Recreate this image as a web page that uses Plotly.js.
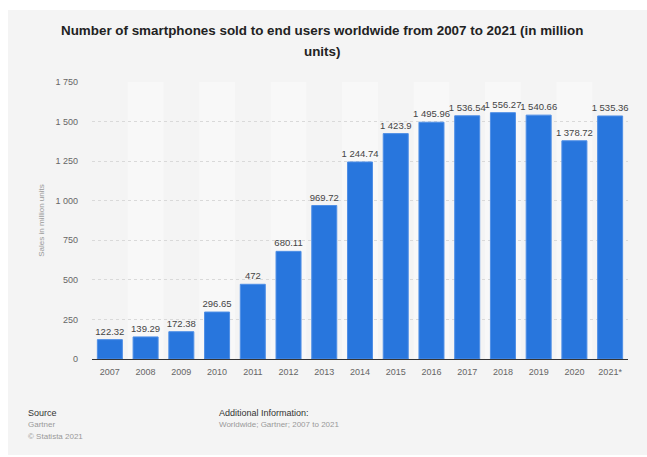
<!DOCTYPE html>
<html>
<head>
<meta charset="utf-8">
<script src="https://cdn.plot.ly/plotly-3.0.1.min.js"></script>
<style>
  html, body { margin: 0; padding: 0; background: #ffffff; width: 647px; height: 457px; overflow: hidden; }
  #chart { position: absolute; left: 8px; top: 10px; width: 639px; height: 445px; }
</style>
</head>
<body>
<div id="chart"></div>
<script>
const years = ["2007","2008","2009","2010","2011","2012","2013","2014","2015","2016","2017","2018","2019","2020","2021*"];
const sales = [122.32, 139.29, 172.38, 296.65, 472, 680.11, 969.72, 1244.74, 1423.9, 1495.96, 1536.54, 1556.27, 1540.66, 1378.72, 1535.36];
const yTicks = [0, 250, 500, 750, 1000, 1250, 1500, 1750];
const titleLines = ["Number of smartphones sold to end users worldwide from 2007 to 2021 (in million", "units)"];

const font = "Liberation Sans, Arial, sans-serif";

// alternating lighter column bands
const shapes = [];
years.forEach((y, i) => {
  if (i % 2 === 1) {
    shapes.push({
      type: "rect", layer: "below", xref: "x", yref: "y",
      x0: i - 0.5, x1: i + 0.5, y0: 0, y1: 1750,
      fillcolor: "#f8f8f8", line: { width: 0 }
    });
  }
});

const trace = {
  type: "bar",
  x: years.map((_, i) => i),
  y: sales,
  marker: { color: "#2876dd", line: { color: "#4f8fe6", width: 1 } },
  texttemplate: "%{y:,}",
  textposition: "outside",
  textangle: 0,
  constraintext: "none",
  cliponaxis: false,
  textfont: { family: font, size: 9.5, color: "#444" },
  hoverinfo: "skip"
};

const titleFont = { family: font, size: 13.4, color: "#222" };

const layout = {
  width: 639, height: 445,
  margin: { l: 83.6, r: 18.6, t: 72.3, b: 96.3 },
  paper_bgcolor: "#f4f4f4",
  plot_bgcolor: "rgba(0,0,0,0)",
  separators: ". ",
  showlegend: false,
  bargap: 0.3,
  font: { family: font },
  xaxis: {
    tickmode: "array",
    tickvals: years.map((_, i) => i),
    ticktext: years,
    range: [-0.5, years.length - 0.5],
    showgrid: false, zeroline: false,
    showline: true, linecolor: "#333", linewidth: 1,
    ticks: "", ticklabelstandoff: 4,
    tickfont: { family: font, size: 9, color: "#666" },
    fixedrange: true
  },
  yaxis: {
    range: [0, 1750],
    tickmode: "array",
    tickvals: yTicks,
    tickformat: ",",
    showgrid: true, gridcolor: "#d9d9d9", griddash: "dot", gridwidth: 1,
    zeroline: false, showline: false,
    ticks: "", ticklabelstandoff: 13,
    tickfont: { family: font, size: 9, color: "#666" },
    title: { text: "Sales in million units", font: { family: font, size: 8, color: "#999" }, standoff: 9 },
    fixedrange: true
  },
  shapes: shapes,
  annotations: [
    { text: "<b>" + titleLines[0] + "</b>", xref: "paper", yref: "paper", x: 0.4295, y: 1.1856, xanchor: "center", yanchor: "middle", showarrow: false, font: titleFont },
    { text: "<b>" + titleLines[1] + "</b>", xref: "paper", yref: "paper", x: 0.4295, y: 1.1107, xanchor: "center", yanchor: "middle", showarrow: false, font: titleFont },
    { text: "Source", xref: "paper", yref: "paper", x: -0.124, y: -0.196, xanchor: "left", yanchor: "middle", showarrow: false, font: { family: font, size: 9, color: "#333" } },
    { text: "Gartner", xref: "paper", yref: "paper", x: -0.124, y: -0.236, xanchor: "left", yanchor: "middle", showarrow: false, font: { family: font, size: 8, color: "#999" } },
    { text: "© Statista 2021", xref: "paper", yref: "paper", x: -0.124, y: -0.280, xanchor: "left", yanchor: "middle", showarrow: false, font: { family: font, size: 8, color: "#999" } },
    { text: "Additional Information:", xref: "paper", yref: "paper", x: 0.2336, y: -0.196, xanchor: "left", yanchor: "middle", showarrow: false, font: { family: font, size: 9, color: "#333" } },
    { text: "Worldwide; Gartner; 2007 to 2021", xref: "paper", yref: "paper", x: 0.2336, y: -0.236, xanchor: "left", yanchor: "middle", showarrow: false, font: { family: font, size: 8, color: "#999" } }
  ]
};

Plotly.newPlot("chart", [trace], layout, { displayModeBar: false, staticPlot: true });
</script>
</body>
</html>
